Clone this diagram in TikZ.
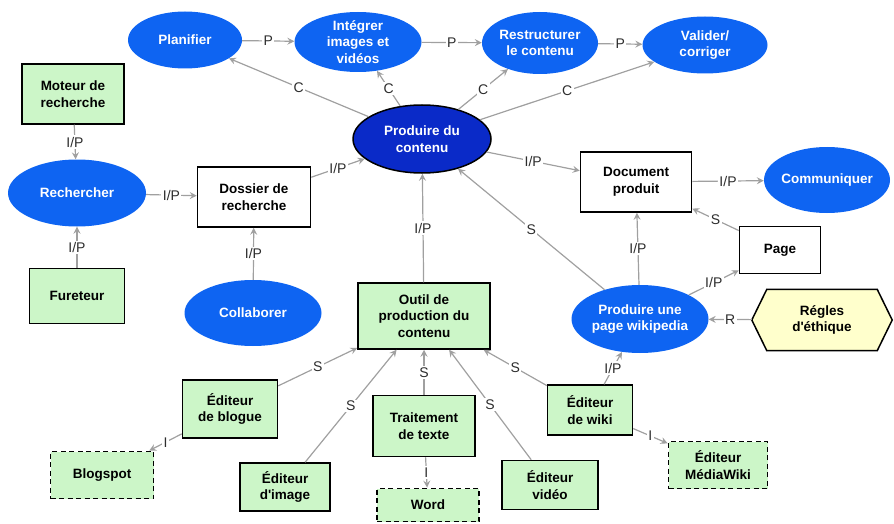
\documentclass[tikz,border=0pt]{standalone}
\usepackage{fontspec}
\setmainfont{Liberation Sans}
\usetikzlibrary{arrows.meta,shapes.geometric,backgrounds}

\definecolor{procblue}{RGB}{14,100,242}
\definecolor{mainblue}{RGB}{10,42,200}
\definecolor{boxgreen}{RGB}{204,246,200}
\definecolor{hexyellow}{RGB}{255,255,204}
\definecolor{linkgray}{RGB}{160,160,160}
\definecolor{labelgray}{RGB}{45,45,45}

\begin{document}
\begin{tikzpicture}[x=1pt,y=-1pt,
  nodefont/.style={font=\fontsize{13.5}{16.5}\selectfont\bfseries, align=center},
  proc/.style={ellipse, nodefont, fill=procblue, text=white, inner sep=-3pt},
  mainproc/.style={ellipse, nodefont, fill=mainblue, draw=black, line width=1.5pt, text=white, inner sep=-3pt},
  tool/.style={rectangle, nodefont, fill=boxgreen, draw=black, line width=1.5pt, inner sep=2pt},
  product/.style={rectangle, nodefont, fill=white, draw=black, line width=1.5pt, inner sep=2pt},
  instance/.style={tool, line width=1.8pt, dash pattern=on 5pt off 3.5pt},
  link/.style={draw=linkgray, line width=1.2pt, -{Stealth[length=7pt,width=7pt,inset=2.5pt]}},
  elabel/.style={fill=white, inner sep=1.5pt, text=labelgray, font=\fontsize{14}{16}\selectfont}
]
\useasboundingbox (0,0) rectangle (894,524);

% --- processes (ellipses) ---
\node[proc, minimum width=114, minimum height=57] (planifier) at (185,40) {Planifier};
\node[proc, minimum width=127, minimum height=60] (integrer) at (358,42) {Intégrer\\images et\\vidéos};
\node[proc, minimum width=116, minimum height=62] (restructurer) at (540,43) {Restructurer\\le contenu};
\node[proc, minimum width=125, minimum height=57] (valider) at (705,45) {Valider/\\corriger};
\node[mainproc, minimum width=138, minimum height=68] (contenu) at (422,139) {Produire du\\contenu};
\node[proc, minimum width=138, minimum height=67] (rechercher) at (77,193) {Rechercher};
\node[proc, minimum width=137, minimum height=66] (collaborer) at (253,313) {Collaborer};
\node[proc, minimum width=126, minimum height=66] (communiquer) at (827,180) {Communiquer};
\node[proc, minimum width=137, minimum height=68] (prodpage) at (640,319) {Produire une\\page wikipedia};

% --- products (white boxes) ---
\node[product, minimum width=113, minimum height=60] (dossier) at (254,197) {Dossier de\\recherche};
\node[product, minimum width=111, minimum height=60] (document) at (636,182) {Document\\produit};
\node[product, minimum width=81, minimum height=47] (page) at (780,250) {Page};

% --- rule (hexagon) ---
\node[nodefont, minimum width=140, minimum height=61] (regles) at (822,320) {Régles\\d\textquotesingle éthique};
\begin{pgfonlayer}{background}
  \draw[fill=hexyellow, line width=1.5pt, line join=miter]
    (regles.west) -- ([xshift=15pt]regles.north west) -- ([xshift=-15pt]regles.north east)
    -- (regles.east) -- ([xshift=-15pt]regles.south east) -- ([xshift=15pt]regles.south west) -- cycle;
\end{pgfonlayer}

% --- tools (green boxes) ---
\node[tool, minimum width=102, minimum height=60] (moteur) at (73,94) {Moteur de\\recherche};
\node[tool, minimum width=95, minimum height=55] (fureteur) at (77,296) {Fureteur};
\node[tool, minimum width=132, minimum height=66] (outil) at (424,316) {Outil de\\production du\\contenu};
\node[tool, minimum width=95, minimum height=58] (blogue) at (230,409) {Éditeur\\de blogue};
\node[tool, minimum width=90, minimum height=48] (image) at (285,487) {Éditeur\\d\textquotesingle image};
\node[tool, minimum width=102, minimum height=61] (traitement) at (424,426) {Traitement\\de texte};
\node[tool, minimum width=96, minimum height=49] (video) at (550,485) {Éditeur\\vidéo};
\node[tool, minimum width=85, minimum height=50] (wiki) at (590,410) {Éditeur\\de wiki};

% --- instances (dashed green boxes) ---
\node[instance, minimum width=103, minimum height=47] (blogspot) at (102,475) {Blogspot};
\node[instance, minimum width=102, minimum height=33] (word) at (428,505) {Word};
\node[instance, minimum width=99, minimum height=47] (mediawiki) at (718,465) {Éditeur\\MédiaWiki};

% --- precedence between sub-processes ---
\draw[link] (planifier) -- node[elabel]{P} (integrer);
\draw[link] (integrer) -- node[elabel]{P} (restructurer);
\draw[link] (restructurer) -- node[elabel]{P} (valider);

% --- composition ---
\draw[link] (contenu) -- node[elabel]{C} (planifier);
\draw[link] (contenu) -- node[elabel]{C} (integrer);
\draw[link] (contenu) -- node[elabel]{C} (restructurer);
\draw[link] (contenu) -- node[elabel]{C} (valider);

% --- inputs / products ---
\draw[link] (moteur) -- node[elabel]{I/P} (rechercher);
\draw[link] (fureteur) -- node[elabel]{I/P} (rechercher);
\draw[link] (rechercher) -- node[elabel]{I/P} (dossier);
\draw[link] (collaborer) -- node[elabel]{I/P} (dossier);
\draw[link] (dossier) -- node[elabel]{I/P} (contenu);
\draw[link] (outil) -- node[elabel]{I/P} (contenu);
\draw[link] (contenu) -- node[elabel]{I/P} (document);
\draw[link] (document) -- node[elabel]{I/P} (communiquer);
\draw[link] (prodpage) -- node[elabel]{I/P} (document);
\draw[link] (prodpage) -- node[elabel]{I/P} (page);
\draw[link] (wiki) -- node[elabel]{I/P} (prodpage);

% --- specialisation ---
\draw[link] (page) -- node[elabel]{S} (document);
\draw[link] (prodpage) -- node[elabel]{S} (contenu);
\draw[link] (blogue) -- node[elabel]{S} (outil);
\draw[link] (image) -- node[elabel]{S} (outil);
\draw[link] (traitement) -- node[elabel]{S} (outil);
\draw[link] (video) -- node[elabel]{S} (outil);
\draw[link] (wiki) -- node[elabel]{S} (outil);

% --- regulation ---
\draw[link] (regles) -- node[elabel]{R} (prodpage);

% --- instantiation ---
\draw[link] (blogue) -- node[elabel]{I} (blogspot);
\draw[link] (traitement) -- node[elabel]{I} (word);
\draw[link] (wiki) -- node[elabel]{I} (mediawiki);
\end{tikzpicture}
\end{document}
